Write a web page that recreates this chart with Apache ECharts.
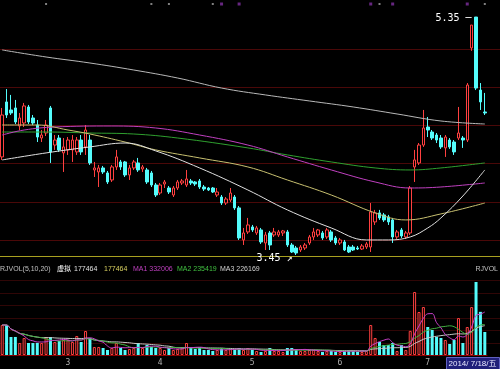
<!DOCTYPE html>
<html><head><meta charset="utf-8">
<script src="https://cdn.jsdelivr.net/npm/echarts/dist/echarts.min.js"></script>
<style>html,body{margin:0;padding:0;background:#000;}#c{width:500px;height:369px;}</style>
</head><body><div id="c"></div>
<script>
const dates = ['2/10','2/11','2/12','2/13','2/14','2/17','2/18','2/19','2/20','2/21','2/24','2/25','2/26','2/27','2/28',
'3/3','3/4','3/5','3/6','3/7','3/10','3/11','3/12','3/13','3/14','3/17','3/18','3/19','3/20','3/21','3/24','3/25','3/26','3/27','3/28','3/31',
'4/1','4/2','4/3','4/4','4/8','4/9','4/10','4/11','4/14','4/15','4/16','4/17','4/18','4/21','4/22','4/23','4/24','4/25','4/28','4/29','4/30',
'5/5','5/6','5/7','5/8','5/9','5/12','5/13','5/14','5/15','5/16','5/19','5/20','5/21','5/22','5/23','5/26','5/27','5/28','5/29','5/30',
'6/3','6/4','6/5','6/6','6/9','6/10','6/11','6/12','6/13','6/16','6/17','6/18','6/19','6/20','6/23','6/24','6/25','6/26','6/27','6/30',
'7/1','7/2','7/3','7/4','7/7','7/8','7/9','7/10','7/11','7/14','7/15','7/16','7/17','7/18'];

// [open, close, low, high]
const ohlc = [
[4.233,4.568,4.209,4.624],[4.672,4.568,4.544,4.775],[4.608,4.584,4.568,4.728],[4.624,4.512,4.496,4.688],[4.480,4.544,4.448,4.584],
[4.504,4.640,4.472,4.664],[4.632,4.512,4.496,4.648],[4.544,4.504,4.488,4.568],[4.488,4.392,4.352,4.528],[4.384,4.408,4.352,4.448],
[4.424,4.488,4.400,4.528],[4.624,4.273,4.185,4.640],[4.328,4.368,4.289,4.408],[4.384,4.289,4.273,4.408],[4.265,4.313,4.113,4.384],
[4.289,4.368,4.249,4.392],[4.289,4.368,4.193,4.408],[4.273,4.368,4.249,4.392],[4.368,4.273,4.249,4.408],[4.313,4.448,4.249,4.488],
[4.368,4.185,4.169,4.408],[4.129,4.145,4.073,4.193],[4.113,4.145,3.993,4.169],[4.145,4.113,4.097,4.161],[4.105,4.033,4.017,4.121],
[4.049,4.153,4.033,4.169],[4.153,4.233,4.129,4.289],[4.193,4.153,4.129,4.209],[4.193,4.089,4.073,4.201],[4.089,4.145,4.049,4.169],
[4.145,4.193,4.129,4.209],[4.185,4.129,4.113,4.225],[4.137,4.153,4.113,4.169],[4.129,4.033,4.017,4.145],[4.105,4.009,3.993,4.121],
[4.009,3.929,3.913,4.025],[3.945,4.009,3.929,4.025],[4.017,4.033,3.985,4.049],[3.985,3.953,3.937,4.001],[3.929,3.985,3.913,4.001],
[3.985,4.033,3.969,4.049],[4.025,4.041,4.009,4.057],[4.009,4.057,3.993,4.129],[4.041,4.025,4.009,4.057],[4.033,4.017,4.001,4.041],
[4.041,3.993,3.977,4.057],[3.993,3.977,3.961,4.009],[3.985,3.969,3.961,3.993],[3.985,3.953,3.945,3.993],[3.929,3.953,3.913,3.985],
[3.913,3.865,3.849,3.929],[3.865,3.897,3.849,3.913],[3.889,3.945,3.873,3.985],[3.913,3.826,3.810,3.929],[3.826,3.586,3.570,3.841],
[3.570,3.626,3.530,3.666],[3.634,3.690,3.618,3.746],[3.674,3.650,3.634,3.690],[3.626,3.666,3.610,3.682],[3.650,3.554,3.538,3.666],
[3.546,3.610,3.490,3.634],[3.626,3.530,3.490,3.642],[3.610,3.634,3.594,3.666],[3.610,3.634,3.594,3.650],[3.626,3.642,3.602,3.650],
[3.634,3.530,3.514,3.650],[3.530,3.474,3.466,3.546],[3.506,3.466,3.450,3.522],[3.490,3.514,3.474,3.530],[3.506,3.530,3.490,3.546],
[3.546,3.594,3.530,3.610],[3.594,3.634,3.570,3.666],[3.610,3.650,3.594,3.658],[3.626,3.586,3.570,3.642],[3.594,3.650,3.578,3.666],
[3.634,3.570,3.554,3.650],[3.586,3.546,3.530,3.602],[3.546,3.570,3.530,3.586],[3.554,3.490,3.482,3.570],[3.514,3.474,3.466,3.530],
[3.514,3.490,3.482,3.530],[3.506,3.498,3.490,3.522],[3.498,3.522,3.490,3.538],[3.514,3.538,3.498,3.554],[3.514,3.794,3.474,3.865],
[3.714,3.786,3.690,3.810],[3.786,3.746,3.730,3.810],[3.770,3.730,3.714,3.786],[3.754,3.714,3.690,3.770],[3.730,3.594,3.546,3.746],
[3.594,3.634,3.578,3.650],[3.650,3.602,3.586,3.666],[3.594,3.626,3.578,3.642],[3.626,3.985,3.610,4.001],[4.153,4.209,4.033,4.289],
[4.185,4.328,4.169,4.344],[4.328,4.464,4.313,4.608],[4.472,4.448,4.392,4.552],[4.432,4.384,4.368,4.448],[4.408,4.368,4.344,4.424],
[4.384,4.313,4.297,4.408],[4.305,4.392,4.233,4.408],[4.368,4.313,4.297,4.384],[4.352,4.273,4.249,4.368],[4.384,4.424,4.368,4.632],
[4.384,4.368,4.305,4.400],[4.368,4.807,4.352,4.823],[5.103,5.286,5.080,5.286],[5.350,4.783,4.767,5.350],[4.767,4.672,4.608,4.823],
[4.592,4.584,4.568,4.744]];

const volumes = [231500,230800,138900,139200,92600,131200,92600,92300,93100,92800,
138700,139100,100300,108000,115700,115900,100300,146600,100500,185200,
131100,61700,61900,54000,38600,54100,92600,54000,38500,46300,
54000,92600,54000,77200,61700,54000,54100,38600,54000,38600,
46300,54000,92600,54000,46300,54000,38600,38500,30900,38600,
54000,38600,46300,38600,54000,38600,54000,38600,30900,23100,
30900,54000,30900,30800,23100,54000,54100,46300,30900,30900,
38600,38600,30900,23100,30900,30900,23100,23200,30900,38600,
30900,23100,23200,30900,231500,131200,100300,77200,77100,92600,
30900,77200,38600,186300,486100,331800,370400,216000,192900,138900,
131200,115700,84900,116000,285000,92600,216000,370000,563300,333000,177464];

// moving-average lines: [candle index, price]
const maLong = [[0,5.087],[10,5.031],[20,4.983],[30,4.927],[40,4.863],[50,4.783],[60,4.728],[70,4.680],[80,4.632],[90,4.576],[100,4.520],[110,4.496]];
const ma30 = [[0,4.209],[10,4.265],[20,4.313],[28,4.344],[35,4.281],[45,4.145],[56,3.969],[65,3.810],[75,3.666],[83,3.570],[88,3.570],[93,3.594],[97,3.666],[100,3.746],[105,3.921],[110,4.129]];
const ma60 = [[0,4.488],[8,4.488],[15,4.448],[20,4.416],[28,4.352],[35,4.289],[45,4.225],[56,4.153],[65,4.049],[75,3.929],[85,3.786],[92,3.730],[100,3.778],[110,3.865]];
const ma120 = [[0,4.408],[5,4.448],[12,4.472],[25,4.480],[35,4.464],[45,4.408],[56,4.328],[65,4.233],[75,4.129],[85,4.033],[93,3.985],[100,3.993],[110,4.025]];
const ma250 = [[0,4.432],[10,4.432],[20,4.424],[30,4.416],[40,4.384],[56,4.305],[65,4.249],[75,4.193],[85,4.145],[93,4.129],[100,4.145],[110,4.185]];

const greyMarks = [10,34,38,48,86,110];
const purpleMarks = [50,54,84,89,106];

const volHeader = {name:'RJVOL(5,10,20)', virt:'虚拟', v1:'177464', v2:'177464', ma1:'MA1 332006', ma2:'MA2 235419', ma3:'MA3 226169'};
const dateTag = '2014/ 7/18/五';

const RED = '#ff4040', CYAN = '#54fcfc';
const up = ohlc.map(d => d[1] >= d[0]);

function volMA(n){
  return volumes.map((v,i)=>{
    const s = Math.max(0,i-n+1); let t=0;
    for(let k=s;k<=i;k++) t+=volumes[k];
    return +(t/(i-s+1)).toFixed(0);
  });
}
const monthStart = dates.map((d,i)=> i>0 && d.split('/')[0] !== dates[i-1].split('/')[0]);

const chart = echarts.init(document.getElementById('c'), null, {renderer:'canvas'});
const lineBase = (data, color, x) => ({type:'line', xAxisIndex:x, yAxisIndex:x, data, smooth:0.4, symbol:'none', lineStyle:{width:1,color}, silent:true});
const mono = 'DejaVu Sans Mono';
const small = '7px "Liberation Sans"';
chart.setOption({
  backgroundColor:'#000',
  animation:false,
  grid:[
    {left:0, top:0, width:487, height:257},
    {left:0, top:280, width:487, height:75},
    {left:0, top:49, width:500, height:191},
    {left:0, top:280.6, width:500, height:62.4}
  ],
  xAxis:[
    {type:'category', gridIndex:0, data:dates, show:false},
    {type:'category', gridIndex:1, data:dates,
      axisLine:{lineStyle:{color:'#8a0000'}}, axisTick:{show:false},
      axisLabel:{interval:(i)=>monthStart[i], formatter:v=>String(parseInt(v)), color:'#b0b0b0', fontSize:8, fontFamily:mono, margin:4}},
    {type:'value', gridIndex:2, show:false},
    {type:'value', gridIndex:3, show:false}
  ],
  yAxis:[
    {type:'value', gridIndex:0, min:3.434, max:5.486, show:false},
    {type:'value', gridIndex:1, min:0, max:578700, show:false},
    {type:'value', gridIndex:2, min:0, max:5, interval:1, axisLine:{show:false}, axisTick:{show:false}, axisLabel:{show:false}, splitLine:{lineStyle:{color:'#4a0808', width:1}}},
    {type:'value', gridIndex:3, min:0, max:5, interval:1, axisLine:{show:false}, axisTick:{show:false}, axisLabel:{show:false}, splitLine:{lineStyle:{color:'#300606', width:1}}}
  ],
  series:[
    lineBase(maLong,'#b8b8b8',0),
    lineBase(ma250,'#2fa02f',0),
    lineBase(ma120,'#c040c0',0),
    lineBase(ma60,'#c8c070',0),
    lineBase(ma30,'#e0e0e0',0),
    {type:'candlestick', xAxisIndex:0, yAxisIndex:0, data:ohlc, barWidth:3,
      itemStyle:{color:'#000', color0:CYAN, borderColor:RED, borderColor0:CYAN, borderWidth:1},
      markPoint:{symbol:'circle', symbolSize:1, itemStyle:{color:'rgba(0,0,0,0)'},
        data:[
          {type:'max', valueDim:'highest', label:{position:'left', distance:4, offset:[0,1], formatter:p=>p.value.toFixed(2)+' ─'}},
          {type:'min', valueDim:'lowest', label:{position:'left', distance:3, offset:[0,3], formatter:p=>p.value.toFixed(2)+' ↗'}}
        ],
        label:{show:true, color:'#ffffff', fontSize:10, fontFamily:mono}}},
    {type:'scatter', xAxisIndex:0, yAxisIndex:0, symbol:'rect', symbolSize:2, itemStyle:{color:'#a0a0a0'}, data:greyMarks.map(i=>[i,5.454])},
    {type:'scatter', xAxisIndex:0, yAxisIndex:0, symbol:'rect', symbolSize:3, itemStyle:{color:'#8030a0'}, data:purpleMarks.map(i=>[i,5.454])},
    {type:'bar', xAxisIndex:1, yAxisIndex:1, barWidth:3,
      data:volumes.map((v,i)=>({value:v, itemStyle: up[i] ? {color:'#000', borderColor:RED, borderWidth:1} : {color:CYAN}}))},
    lineBase(volMA(20),'#c8c8c8',1),
    lineBase(volMA(10),'#40b040',1),
    lineBase(volMA(5),'#c840c8',1)
  ],
  graphic:[
    {type:'line', shape:{x1:0,y1:256.5,x2:500,y2:256.5}, style:{stroke:'#a8a020', lineWidth:1}},
    {type:'text', left:0, top:266, style:{text:volHeader.name, fill:'#c0c0c0', font:small}},
    {type:'text', left:57, top:265, style:{text:volHeader.virt, fill:'#ffffff', font:'7px "Noto Sans CJK SC"'}},
    {type:'text', left:74, top:266, style:{text:volHeader.v1, fill:'#e0e0e0', font:small}},
    {type:'text', left:104, top:266, style:{text:volHeader.v2, fill:'#d8d060', font:small}},
    {type:'text', left:133, top:266, style:{text:volHeader.ma1, fill:'#c040c0', font:small}},
    {type:'text', left:177, top:266, style:{text:volHeader.ma2, fill:'#40c040', font:small}},
    {type:'text', left:220, top:266, style:{text:volHeader.ma3, fill:'#d0d0d0', font:small}},
    {type:'text', right:2, top:266, style:{text:'RJVOL', fill:'#c0c0c0', font:small}},
    {type:'group', right:0, top:357, children:[
      {type:'rect', shape:{x:0,y:0,width:53,height:12}, style:{fill:'#20207a', stroke:'#6060c0'}},
      {type:'text', left:2, top:2, style:{text:dateTag, fill:'#e8e8ff', font:'8px "Liberation Sans", "Noto Sans CJK SC"'}}
    ]}
  ]
});
</script></body></html>
